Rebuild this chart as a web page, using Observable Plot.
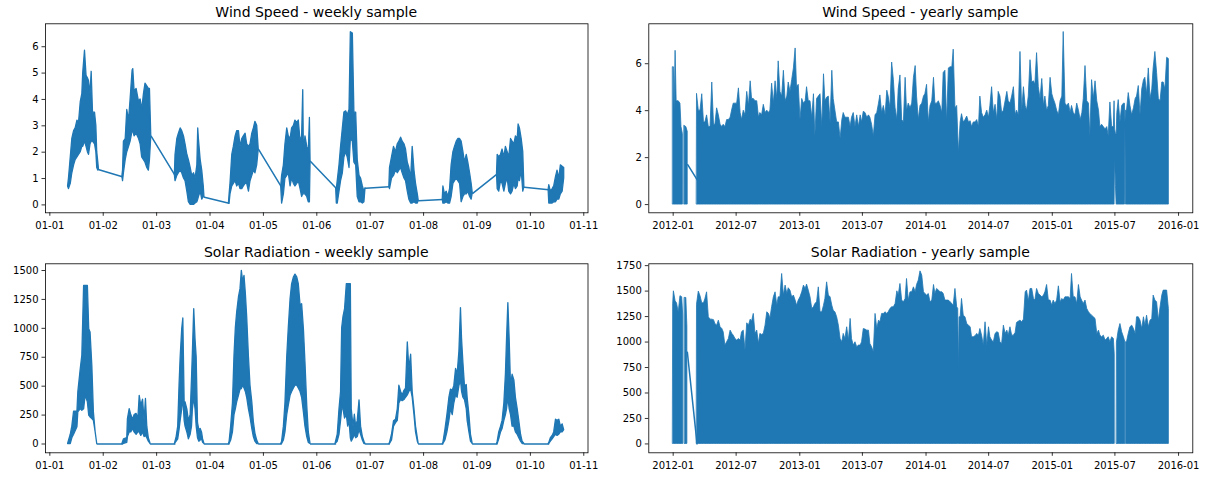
<!DOCTYPE html>
<html><head><meta charset="utf-8">
<script src="https://cdn.jsdelivr.net/npm/d3@7"></script>
<script src="https://cdn.jsdelivr.net/npm/@observablehq/plot@0.6"></script>
<style>
body{margin:0;background:#fff;}
#root{position:relative;width:1207px;height:477px;overflow:hidden;background:#fff;}
#root svg{position:absolute;max-width:none;}
</style></head><body><div id="root"></div>
<script>
// ---------- Weekly sample (hours since 2012-01-01 00:00): [hour, low, high] ----------
const windDay1 = [[8.2,0.7,0.7],[8.6,0.6,1.0],[9.4,0.8,1.8],[10.1,1.2,2.5],[10.9,1.5,2.8],[11.6,1.7,2.9],[12.4,1.8,3.2],[13.1,1.9,3.1],[13.9,2.0,3.9],[14.6,2.2,4.2],[15.0,2.2,5.0],[15.8,2.4,5.85],[16.5,2.2,4.9],[17.1,2.0,4.8],[17.6,1.9,4.7],[18.3,2.3,4.2],[18.8,2.4,5.05],[19.4,2.4,3.5],[20.3,2.3,3.5],[20.9,2.0,3.0],[21.3,1.4,2.0],[21.8,1.3,1.6],[22.1,1.33,1.33]];
const windDay2 = [[32.6,1.07,1.07],[32.9,0.9,1.3],[33.3,1.2,2.4],[34.1,1.7,2.5],[34.8,2.0,3.6],[35.6,2.2,3.2],[36.3,2.4,4.0],[37.2,2.8,5.1],[37.5,2.8,5.15],[38.1,2.6,4.3],[39.0,2.7,4.4],[40.1,2.5,3.9],[40.8,2.3,4.0],[41.5,1.8,3.6],[42.3,1.7,4.2],[43.0,1.6,4.6],[43.8,1.4,4.5],[44.5,1.3,4.4],[45.0,1.7,4.4],[45.6,2.6,2.6]];
const windDay3 = [[56.2,1.13,1.13],[56.5,0.9,1.9],[57.3,1.1,2.5],[58.0,1.2,2.7],[58.8,1.3,2.9],[59.5,1.2,2.8],[60.3,1.0,2.6],[61.0,0.9,2.3],[61.8,0.5,1.9],[62.5,0.1,1.7],[63.3,0.0,1.4],[64.0,0.0,1.1],[64.8,0.0,1.2],[65.5,0.05,1.0],[66.3,0.1,1.5],[66.7,0.2,2.9],[67.0,0.3,2.5],[67.8,0.5,1.7],[68.5,0.2,1.3],[69.2,0.3,0.7],[69.5,0.29,0.29]];
const windDay4 = [[80.5,0.06,0.06],[80.8,0.06,0.4],[81.2,0.4,0.8],[82.0,0.7,1.9],[82.7,0.8,2.2],[83.5,0.9,2.6],[84.2,0.7,2.8],[85.0,0.8,2.8],[85.7,0.6,2.2],[86.5,0.6,2.5],[87.2,0.7,2.6],[88.0,0.8,2.7],[88.7,0.8,2.3],[89.5,0.5,2.2],[90.2,0.9,2.3],[91.0,1.1,2.7],[91.7,1.3,2.9],[92.4,1.2,3.15],[93.2,1.5,3.0],[93.9,2.1,2.1]];
const windDay5 = [[104.0,0.69,0.69],[104.4,0.05,1.1],[105.2,0.4,1.5],[105.9,1.0,2.3],[106.7,1.1,2.9],[107.4,1.2,2.6],[108.2,0.7,2.5],[108.9,1.0,2.9],[109.7,0.8,3.0],[110.4,0.7,3.2],[111.2,0.8,3.1],[111.9,0.9,3.2],[112.7,0.6,2.4],[113.4,0.3,2.6],[113.9,0.4,4.35],[114.2,0.4,2.0],[114.9,0.4,2.6],[115.7,0.3,2.2],[116.4,0.1,2.0],[116.9,0.1,3.3],[117.2,1.65,1.65]];
const windDay6 = [[128.7,0.63,0.63],[129.0,0.05,0.6],[129.4,0.05,0.9],[130.2,0.5,1.5],[130.9,0.9,2.2],[131.7,1.2,2.9],[132.4,1.8,3.5],[133.2,2.0,3.55],[133.9,1.8,3.4],[134.7,1.4,3.6],[135.3,2.5,6.55],[136.2,2.4,6.5],[136.9,1.6,3.5],[137.7,1.5,3.5],[138.4,0.3,1.7],[139.2,0.1,1.1],[139.9,0.1,1.0],[140.7,0.05,0.7],[141.4,0.1,0.5],[141.9,0.63,0.63]];
const windDay7 = [[152.6,0.69,0.69],[152.9,0.6,1.4],[153.8,1.0,1.8],[154.7,1.1,2.2],[155.6,1.3,2.0],[156.4,1.2,2.3],[157.1,1.3,2.4],[157.9,1.4,2.55],[158.6,1.2,2.4],[159.4,1.0,2.3],[160.1,0.9,2.1],[160.9,0.5,1.6],[161.6,0.2,1.4],[162.4,0.05,1.0],[163.1,0.05,2.2],[163.9,0.1,1.3],[164.6,0.05,0.8],[165.4,0.05,0.4],[165.8,0.16,0.16]];
const windDay8 = [[176.6,0.2,0.2],[176.9,0.05,0.7],[177.6,0.05,0.4],[178.4,0.1,0.5],[179.1,0.05,0.3],[179.9,0.05,0.6],[180.6,0.3,1.5],[181.4,0.8,2.0],[182.1,0.9,2.2],[182.9,1.0,2.4],[183.6,0.9,2.5],[184.4,0.8,2.5],[185.1,0.1,2.4],[185.9,0.3,2.0],[186.6,0.4,1.6],[187.4,0.4,1.9],[188.1,0.5,1.6],[188.9,0.3,1.2],[189.6,0.2,0.8],[190.1,0.44,0.44]];
const windDay9 = [[201.0,1.17,1.17],[201.3,0.6,1.9],[202.0,0.5,1.8],[202.8,0.9,1.9],[203.5,0.8,2.1],[204.3,0.5,1.8],[205.0,0.8,2.2],[205.8,1.0,2.0],[206.5,0.5,1.8],[207.3,0.4,2.5],[208.0,0.5,2.4],[208.8,0.8,2.3],[209.5,0.6,2.6],[210.3,0.7,2.5],[210.7,1.0,3.05],[211.3,0.9,2.9],[212.1,1.3,2.5],[212.8,0.5,2.0],[213.3,0.67,0.67]];
const windDay10 = [[224.2,0.57,0.57],[224.5,0.05,0.75],[225.2,0.05,0.5],[226.0,0.05,0.6],[226.7,0.1,0.7],[227.5,0.1,1.05],[228.2,0.2,1.3],[229.0,0.2,1.0],[229.7,0.4,1.5],[230.5,0.5,1.45],[231.2,1.0,1.4]];

const solarDay1 = [[8.2,0,0],[9.4,0,80],[10.1,50,150],[10.9,80,280],[12.4,144,279],[12.8,274,446],[13.9,302,648],[14.6,288,763],[15.4,300,1367],[16.1,420,1367],[17.1,360,1367],[17.7,245,993],[18.3,230,964],[19.1,216,677],[19.8,200,274],[20.6,100,100],[21.3,0,0]];
const solarDay2 = [[32.6,0,0],[33.3,0,40],[34.8,10,50],[35.1,60,216],[35.9,100,302],[36.6,100,250],[37.4,130,210],[38.1,100,250],[39.0,80,260],[39.8,100,220],[40.4,100,417],[41.1,70,330],[41.9,100,383],[42.6,60,200],[43.2,70,389],[43.8,50,150],[44.5,20,50],[45.3,0,0]];
const solarDay3 = [[56.2,0,0],[57.0,20,60],[57.7,40,150],[58.3,120,504],[58.8,200,748],[59.5,300,993],[60.0,400,1085],[60.6,200,350],[61.0,150,360],[61.8,100,300],[62.5,40,200],[63.3,80,250],[63.9,150,561],[64.3,300,792],[64.9,400,1166],[65.5,300,900],[66.0,150,750],[66.6,50,180],[67.2,20,120],[67.8,30,130],[68.4,40,100],[68.9,10,40],[69.5,0,0]];
const solarDay4 = [[80.5,0,0],[80.8,0,20],[81.5,30,150],[82.3,100,350],[83.0,250,763],[83.6,300,1000],[84.2,360,1137],[85.0,417,1267],[85.7,470,1339],[86.3,475,1497],[86.9,504,1400],[87.5,480,1454],[88.1,450,1300],[88.7,400,1100],[89.5,300,750],[90.2,230,504],[91.0,130,360],[91.7,60,190],[92.4,20,90],[93.2,0,30],[93.9,0,0]];
const solarDay5 = [[104.0,0,0],[104.4,0,20],[105.2,30,150],[105.9,100,350],[106.7,250,750],[107.4,331,1000],[108.2,417,1250],[108.9,450,1380],[109.7,480,1440],[110.4,504,1465],[111.2,504,1440],[111.9,480,1382],[112.7,450,1195],[113.4,400,1209],[114.2,273,993],[114.9,150,705],[115.7,60,331],[116.4,10,100],[117.2,0,0]];
const solarDay6 = [[128.4,0,0],[129.4,20,80],[130.2,80,300],[130.9,200,450],[131.4,300,1000],[132.0,300,1100],[132.7,220,1166],[133.5,250,1382],[134.1,150,1382],[134.7,200,1382],[135.3,50,1382],[135.7,20,300],[136.5,50,150],[137.1,80,253],[137.7,50,150],[138.4,60,200],[139.2,120,377],[139.9,80,150],[140.7,30,60],[141.4,0,20],[141.9,0,0]];
const solarDay7 = [[152.6,0,0],[152.9,0,10],[153.8,30,80],[154.7,150,196],[155.6,180,210],[156.4,200,300],[157.1,350,504],[157.9,380,450],[158.6,370,420],[159.4,380,460],[160.1,400,480],[160.9,420,878],[161.6,450,650],[162.4,470,772],[163.1,400,450],[163.9,250,300],[164.6,100,150],[165.4,20,50],[165.8,0,0]];
const solarDay8 = [[176.6,0,0],[176.9,0,10],[177.8,30,120],[178.7,100,250],[179.6,200,400],[180.3,300,470],[181.1,250,460],[181.8,350,500],[182.6,420,650],[183.3,400,600],[184.1,500,800],[184.8,550,1175],[185.3,450,900],[185.9,400,700],[186.6,380,500],[187.4,300,510],[187.8,200,400],[188.6,100,250],[189.3,20,80],[190.1,0,0]];
const solarDay9 = [[201.0,0,0],[201.3,0,20],[202.0,40,100],[202.8,100,150],[203.5,130,200],[204.3,200,350],[205.0,250,600],[205.5,300,901],[206.1,400,1218],[206.7,300,900],[207.3,250,500],[208.0,150,599],[208.8,150,550],[209.5,100,400],[210.3,80,300],[211.0,50,200],[211.8,20,80],[212.5,0,20],[213.3,0,0]];
const solarDay10 = [[224.2,0,0],[224.5,0,10],[225.2,20,50],[226.0,40,70],[226.7,60,100],[227.5,80,210],[228.2,70,200],[229.0,80,210],[229.7,100,150],[230.5,100,170],[231.2,120,120]];

// ---------- Yearly sample (days since 2012-01-01): [day, top, optional bottom] ----------
const windYearA = [[0,5.85],[2,5.85],[4,4.0],[7,6.55],[10,4.4],[16,4.4],[21,4.3],[24,3.3],[28,3.0]];
const windYearB = [[33,3.35],[38,3.3],[42,3.1]];
const windYearLink = [[42,1.7],[69,1.06]];
const windYearMain = [[69,4.7],[74,4.0],[79,4.0],[84,4.7],[89,3.5],[93,3.5],[98,3.8],[103,3.3],[108,3.3],[113,5.2],[118,3.4],[122,3.4],[127,4.1],[132,3.8],[137,3.4],[142,3.3],[146,3.4],[151,3.3],[156,3.6],[161,3.6],[166,3.7],[171,4.05],[175,4.3],[180,4.3],[185,4.3],[190,4.95],[195,3.9],[199,3.6],[204,4.0],[209,3.8],[214,4.8],[219,4.2],[224,5.25],[228,4.5],[233,4.5],[238,4.4],[243,4.4],[248,3.7],[252,3.9],[257,3.8],[262,4.25],[267,3.9],[272,4.0],[277,3.9],[281,4.0],[286,5.15],[291,4.3],[296,5.25],[301,4.5],[305,6.1],[310,4.8],[315,4.6],[320,5.7],[325,4.4],[330,4.6],[334,5.2],[339,4.8],[344,5.3],[349,5.8],[354,6.65],[358,5.0],[363,5.1],[368,3.6],[373,4.5],[378,4.3],[383,4.4],[387,5.0],[392,4.4],[397,4.4],[402,3.7],[407,4.7],[411,2.9],[416,4.5],[421,4.6],[426,4.7],[431,3.3],[436,5.55],[440,4.4],[445,4.55],[450,4.6],[455,3.5],[460,5.7],[464,4.5],[469,4.0],[474,3.5],[479,3.5],[484,2.8],[489,3.6],[493,3.9],[498,3.7],[503,3.7],[508,3.7],[513,3.3],[517,3.7],[522,3.9],[527,3.3],[532,3.8],[537,3.3],[542,3.8],[546,3.5],[551,3.95],[556,3.9],[561,3.7],[566,3.8],[570,3.7],[575,3.4],[580,2.9],[585,3.8],[590,3.9],[595,4.3],[599,4.65],[604,3.9],[609,4.2],[614,3.8],[619,4.85],[623,4.6],[628,4.1],[633,6.05],[638,5.3],[643,4.1],[648,3.6],[652,4.9],[657,5.5],[662,3.6],[667,3.5],[672,5.4],[676,4.0],[681,4.3],[686,4.1],[691,4.3],[696,5.4],[701,5.9],[705,4.6],[710,3.6],[715,4.2],[720,4.3],[725,4.6],[729,4.7],[734,5.1],[739,3.5],[744,4.2],[749,4.4],[754,5.4],[758,4.3],[763,4.3],[768,4.4],[773,4.2],[778,3.9],[782,5.6],[787,5.7],[792,3.5],[797,5.8],[802,5.85],[807,5.85],[811,6.6],[816,4.1],[821,4.2],[826,2.2],[831,3.5],[835,3.85],[840,3.5],[845,3.6],[850,3.75],[855,3.5],[860,3.55],[864,3.3],[869,3.5],[874,3.5],[879,3.6],[884,3.3],[888,4.6],[893,3.9],[898,3.7],[903,3.8],[908,4.0],[913,3.7],[917,4.2],[922,5.0],[927,3.9],[932,4.25],[937,3.6],[941,4.8],[946,4.6],[951,3.9],[956,4.0],[961,4.4],[966,4.8],[970,4.4],[975,4.3],[980,4.6],[985,5.0],[990,3.8],[994,4.0],[999,3.8],[1004,6.5],[1009,4.0],[1014,5.0],[1019,4.2],[1023,4.0],[1028,4.6],[1033,6.15],[1038,5.2],[1043,5.25],[1047,5.1],[1052,6.45],[1057,5.0],[1062,4.5],[1067,5.35],[1072,4.2],[1076,4.6],[1081,4.0],[1086,4.2],[1091,5.4],[1096,4.7],[1100,4.5],[1105,4.3],[1110,4.0],[1115,3.8],[1120,4.4],[1125,4.6],[1129,7.35],[1134,4.3],[1139,4.2],[1144,4.3],[1149,3.9],[1153,4.2],[1158,3.9],[1163,3.8],[1168,4.3],[1173,4.0],[1178,3.6],[1183,3.9],[1187,4.5],[1192,5.9],[1197,4.4],[1202,4.3],[1206,2.9],[1211,5.3],[1216,4.5],[1221,5.25],[1226,4.4],[1231,4.0],[1235,3.3],[1240,3.4],[1245,3.3],[1250,3.2],[1255,3.3],[1259,2.9],[1264,4.35],[1269,3.3],[1274,3.3],[1276,4.4,0],[1277.5,3.2,2.0],[1280,3.0,0.8],[1282,3.0,0],[1284,3.9],[1288,4.45],[1293,3.5],[1298,4.2],[1303,4.3],[1306,4.3],[1307.5,3.5,3.3],[1309,4.0],[1312,4.0],[1317,4.75],[1322,4.2],[1327,3.8],[1332,4.1],[1337,4.5],[1341,4.6],[1346,5.05],[1351,3.8],[1356,4.9],[1361,5.3],[1365,5.4],[1370,4.7],[1375,5.8],[1380,4.5],[1385,4.9],[1389,5.8],[1394,6.5],[1399,5.6],[1404,4.5],[1409,4.4],[1414,5.2],[1418,5.2],[1423,4.9],[1428,6.25],[1433,6.2]];

const solarYearA = [[0,1374],[2,1498],[7,1400],[11,1380],[16,1290],[21,1450],[26,1440],[29,1259]];
const solarYearB = [[34,1433],[38,1433],[41,1150]];
const solarYearLink = [[41,900],[69,0]];
const solarYearMain1 = [[69,1370],[74,1495],[79,1450],[84,1380],[89,1380],[93,1420],[98,1488],[103,1243],[108,1220],[113,1220],[118,1215],[122,1177],[127,1161],[132,1210],[137,1145],[142,1128],[146,1096],[151,965],[156,998],[161,1030],[166,1112],[171,1080],[175,1063],[180,1030],[185,1014],[190,1030],[195,1014],[199,1096],[204,1112],[209,916],[214,1184],[219,1161],[224,1220],[228,1200],[233,1276],[238,1080],[243,1112],[248,981],[252,1080],[257,1070],[262,1080],[267,1161],[272,1292],[277,1276],[281,1227],[286,1341],[291,1439],[296,1488],[301,1357],[305,1439],[310,1439],[315,1668],[320,1456],[325,1554],[330,1472],[334,1528],[339,1505],[344,1439],[349,1456],[354,1407],[358,1357],[363,1407],[368,1439],[373,1488],[378,1554],[383,1521],[387,1564],[392,1505],[397,1439],[402,1325],[407,1341],[411,1374],[416,1390],[421,1537],[426,1292],[431,1292],[436,1357],[440,1423],[445,1586],[450,1456],[455,1439],[460,1357],[464,1308],[469,1292],[474,1243],[479,1161],[484,1030],[489,998],[493,1080],[498,1030],[503,1145],[508,1014],[513,1227],[517,1030],[522,965],[527,998],[532,949],[537,965],[542,965],[546,998],[551,1128],[556,1122],[561,1112],[566,1112],[570,981],[575,949],[580,900],[585,1276],[590,1128],[595,1210],[599,1194],[604,1276],[609,1276],[614,1292],[619,1276],[623,1292],[628,1325],[633,1341],[638,1341],[643,1374],[648,1498],[652,1456],[657,1570],[662,1407],[667,1390],[672,1423],[676,1619],[681,1407],[686,1488],[691,1488],[696,1537],[701,1488],[705,1560],[710,1603],[715,1694],[720,1652],[725,1488],[729,1472],[734,1456],[739,1472],[744,1390],[749,1407],[754,1560],[758,1472],[763,1521],[768,1505],[773,1488],[778,1488],[782,1472],[787,1407],[792,1407],[797,1407],[802,1390],[807,1374],[811,1357],[816,1521],[821,1341],[824,1325],[826,736],[828,1243],[831,1243],[835,1423],[840,1259],[845,1243],[850,1177],[855,1161],[860,1145],[864,1047],[869,1047],[874,1057],[879,1080],[884,1063],[888,1128],[893,1063],[898,965],[903,1194],[908,965],[913,1145],[917,1047],[922,1014],[927,998],[932,1080],[937,1096],[941,1090],[946,998],[951,981],[956,1161],[961,1080],[966,1112],[970,1063],[975,1145],[980,1063],[985,1063],[990,1090],[994,1187],[999,1200],[1004,1210],[1009,1194],[1014,1220],[1019,1488],[1023,1505],[1028,1397],[1033,1521],[1038,1521],[1043,1423],[1047,1407],[1052,1521],[1057,1472],[1062,1456],[1067,1439],[1072,1456],[1076,1488],[1081,1560],[1086,1407],[1091,1407],[1096,1357],[1100,1407],[1105,1374],[1110,1407],[1115,1547],[1120,1390],[1125,1423],[1129,1407],[1134,1439],[1139,1439],[1144,1439],[1149,1423],[1153,1668],[1158,1439],[1163,1439],[1168,1374],[1173,1560],[1178,1439],[1182,1407],[1187,1374],[1192,1407],[1197,1325],[1202,1292],[1206,1276],[1211,1259],[1216,1243],[1221,1227],[1226,1080],[1231,1112],[1235,1063],[1240,1047],[1245,1063],[1250,1014],[1255,1030],[1259,1047],[1264,998],[1269,1047],[1274,1030],[1276.5,880]];
const solarYearMain2 = [[1283,998],[1288,1112],[1293,1177],[1298,1096],[1303,1047],[1307,1000]];
const solarYearMain3 = [[1310,998],[1312,998],[1317,1080],[1322,1145],[1327,1161],[1332,1128],[1337,1080],[1341,1243],[1346,1243],[1351,1210],[1356,1128],[1361,1243],[1365,1161],[1370,1259],[1375,1145],[1380,1210],[1385,1227],[1389,1456],[1394,1407],[1399,1390],[1404,1210],[1409,1341],[1414,1456],[1418,1505],[1423,1505],[1428,1505],[1433,1325]];

// ---------- Tick labels ----------
const weeklyTickDays = [0,1,2,3,4,5,6,7,8,9,10];
const yearlyTickMonths = [[2012,0],[2012,6],[2013,0],[2013,6],[2014,0],[2014,6],[2015,0],[2015,6],[2016,0]];
const windWeekTicks = [0,1,2,3,4,5,6];
const windYearTicks = [0,2,4,6];
const solarWeekTicks = [0,250,500,750,1000,1250,1500];
const solarYearTicks = [0,250,500,750,1000,1250,1500,1750];

// ---------- Build ----------
const C0 = "#1f77b4";
const T0 = Date.UTC(2012,0,1);
const hr = h => new Date(T0 + h*3600e3);
const dday = d => new Date(T0 + d*864e5);

function weeklyRows(days){
  return days.flatMap((arr,i) => arr.map(([h,lo,hi]) => ({t: hr(h), lo, hi, c: i})));
}
function weeklyLinks(days){
  const out = [];
  for (let i = 0; i < days.length-1; i++){
    const a = days[i][days[i].length-1], b = days[i+1][0];
    out.push({t: hr(a[0]), v: (a[1]+a[2])/2, c: i}, {t: hr(b[0]), v: (b[1]+b[2])/2, c: i});
  }
  return out;
}
function yearlyRows(segs){
  return segs.flatMap((arr,i) => arr.map(e => ({t: dday(e[0]), hi: e[1], lo: e.length > 2 ? e[2] : 0, c: i})));
}

const weeklyTicks = weeklyTickDays.map(d => dday(d));
const yearlyTicks = yearlyTickMonths.map(([y,m]) => new Date(Date.UTC(y,m,1)));
const weekDomain = [hr(-1.95), hr(241.9)];
const yearDomain = [dday(-70.5), dday(1502.2)];

const root = document.getElementById("root");

function panel({left, top, mLeft, mRight, xDomain, yDomain, xTicks, xFmt, yTicks, marks, title}){
  const W = 600, H = 238, mTop = 23.3, mBottom = 25.7;
  const chart = Plot.plot({
    width: W, height: H,
    marginLeft: mLeft, marginRight: mRight, marginTop: mTop, marginBottom: mBottom,
    style: {fontFamily: "DejaVu Sans", fontSize: "10px", color: "#000", background: "#fff", overflow: "visible"},
    x: {type: "utc", domain: xDomain},
    y: {domain: yDomain},
    marks: [
      ...marks,
      Plot.frame({stroke: "#000", strokeWidth: 0.8}),
      Plot.axisX({ticks: xTicks, tickFormat: xFmt, tickSize: 3.5, tickPadding: 6, label: null, strokeWidth: 0.8, fontSize: 10}),
      Plot.axisY({ticks: yTicks, tickFormat: d => String(d), tickSize: 3.5, tickPadding: 3.5, label: null, strokeWidth: 0.8, fontSize: 10})
    ]
  });
  chart.style.left = left + "px";
  chart.style.top = top + "px";
  d3.select(chart).append("text")
    .attr("x", mLeft + (W - mLeft - mRight)/2)
    .attr("y", mTop - 6)
    .attr("text-anchor", "middle")
    .attr("font-family", "DejaVu Sans")
    .attr("font-size", 14)
    .attr("fill", "#000")
    .text(title);
  root.appendChild(chart);
}

const windDays = [windDay1,windDay2,windDay3,windDay4,windDay5,windDay6,windDay7,windDay8,windDay9,windDay10];
const solarDays = [solarDay1,solarDay2,solarDay3,solarDay4,solarDay5,solarDay6,solarDay7,solarDay8,solarDay9,solarDay10];
const fmtWeek = d3.utcFormat("%m-%d");
const fmtYear = d3.utcFormat("%Y-%m");

function weeklyMarks(days){
  return [
    Plot.line(weeklyLinks(days), {x: "t", y: "v", z: "c", stroke: C0, strokeWidth: 1.5}),
    Plot.areaY(weeklyRows(days), {x: "t", y1: "lo", y2: "hi", z: "c", fill: C0, stroke: C0, strokeWidth: 1.3, strokeLinejoin: "round", curve: "linear"})
  ];
}
function yearlyMarks(segs, link){
  return [
    Plot.line(link.map(([d,v]) => ({t: dday(d), v})), {x: "t", y: "v", stroke: C0, strokeWidth: 1.5}),
    Plot.areaY(yearlyRows(segs), {x: "t", y1: "lo", y2: "hi", z: "c", fill: C0, stroke: C0, strokeWidth: 0.8, curve: "linear"})
  ];
}

panel({left: 0, top: 0, mLeft: 45, mRight: 12.5, xDomain: weekDomain, yDomain: [-0.3, 6.87],
  xTicks: weeklyTicks, xFmt: fmtWeek, yTicks: windWeekTicks, marks: weeklyMarks(windDays), title: "Wind Speed - weekly sample"});
panel({left: 605, top: 0, mLeft: 43.3, mRight: 12.7, xDomain: yearDomain, yDomain: [-0.35, 7.7],
  xTicks: yearlyTicks, xFmt: fmtYear, yTicks: windYearTicks, marks: yearlyMarks([windYearA, windYearB, windYearMain], windYearLink), title: "Wind Speed - yearly sample"});
panel({left: 0, top: 240, mLeft: 45, mRight: 12.5, xDomain: weekDomain, yDomain: [-76, 1558],
  xTicks: weeklyTicks, xFmt: fmtWeek, yTicks: solarWeekTicks, marks: weeklyMarks(solarDays), title: "Solar Radiation - weekly sample"});
panel({left: 605, top: 240, mLeft: 43.3, mRight: 12.7, xDomain: yearDomain, yDomain: [-87, 1768],
  xTicks: yearlyTicks, xFmt: fmtYear, yTicks: solarYearTicks, marks: yearlyMarks([solarYearA, solarYearB, solarYearMain1, solarYearMain2, solarYearMain3], solarYearLink), title: "Solar Radiation - yearly sample"});
</script></body></html>
